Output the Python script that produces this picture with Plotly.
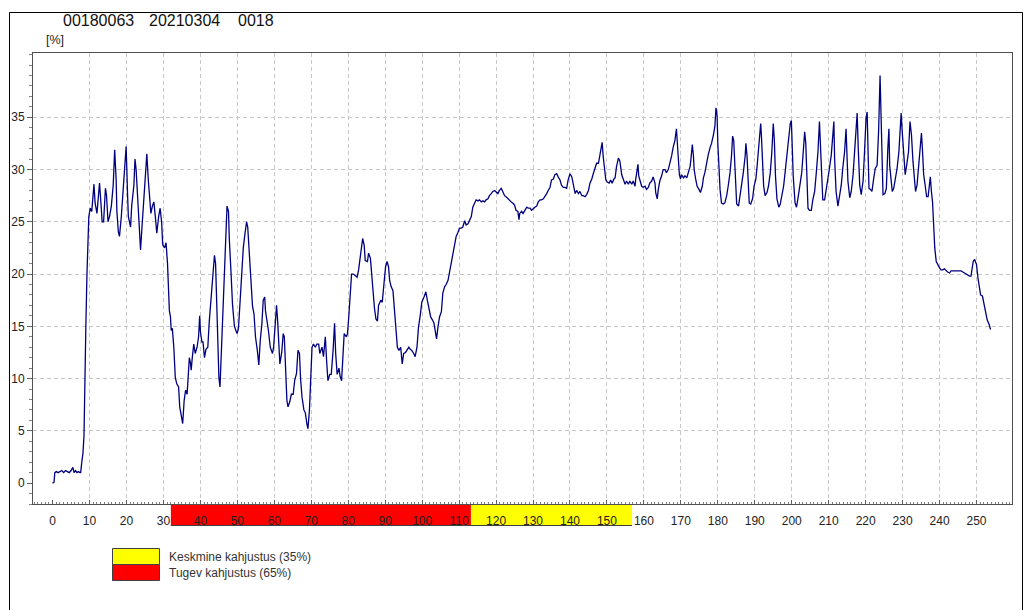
import plotly.graph_objects as go

# ---- measured profile, split by stretch (distance, reading %) ----
stretch_a = [
    (0, 0), (0.4, 0.1), (0.6, 1.0), (1.0, 1.1), (1.5, 1.0), (2.0, 1.1), (2.5, 1.2), (3.0, 1.0),
    (3.5, 1.2), (4.0, 1.1), (4.5, 1.0), (5.0, 1.2), (5.5, 1.5), (5.8, 1.0), (6.2, 1.2), (6.6, 1.0),
    (7.0, 1.1), (7.4, 1.0), (7.6, 1.0), (7.9, 2.0), (8.2, 2.8), (8.5, 4.5), (8.8, 9.0), (9.0, 15.0),
    (9.3, 20.0), (9.6, 23.5), (9.8, 25.5), (10.2, 26.3), (10.6, 26.0), (11.2, 28.6), (11.5, 26.8),
    (12.0, 25.8), (12.7, 28.7), (13.2, 26.2), (13.4, 25.0), (13.8, 25.0), (14.3, 28.2), (14.6, 27.5),
    (15.0, 25.0), (15.4, 25.5), (15.9, 26.5), (16.4, 28.5), (16.8, 31.9), (17.2, 29.0), (17.4, 26.0),
    (17.8, 24.0), (18.1, 23.6), (18.6, 25.5), (19.0, 27.5), (19.5, 29.5), (19.9, 32.2), (20.3, 27.5),
    (20.5, 25.5), (21.1, 24.5), (21.4, 26.5), (22.0, 28.5), (22.3, 31.0), (22.6, 30.0), (23.1, 27.0),
    (23.4, 25.5), (23.8, 22.3), (24.1, 24.0), (24.6, 26.5), (25.1, 29.5), (25.5, 31.5), (25.9, 29.0),
    (26.3, 27.0), (26.6, 25.8), (27.0, 26.5), (27.4, 26.9), (27.8, 25.5), (28.2, 23.9), (28.7, 25.5),
    (29.1, 26.3), (29.5, 25.0), (29.8, 22.8), (30.3, 22.5), (30.7, 23.0), (31.1, 21.0), (31.4, 17.8),
    (31.6, 16.5), (31.9, 15.9), (32.1, 14.6), (32.4, 14.8), (32.8, 13.0), (33.2, 10.1), (33.6, 9.5),
    (34.1, 9.2), (34.4, 7.3), (34.8, 6.5), (35.2, 5.7), (35.6, 7.9), (36.0, 8.9), (36.4, 8.5),
    (36.7, 10.0), (37.0, 12.0), (37.3, 11.5), (37.5, 10.8), (37.8, 12.0), (38.2, 13.3), (38.6, 12.4),
    (39.1, 13.0), (39.5, 14.0), (39.8, 16.0), (40.0, 14.5), (40.4, 13.5), (40.7, 13.5), (41.1, 12.0),
    (41.5, 12.8), (42.0, 13.0), (42.4, 15.5), (42.9, 18.1), (43.3, 20.0), (43.8, 21.8), (44.1, 21.0),
    (44.5, 16.5), (44.8, 13.0), (45.0, 10.1), (45.3, 9.2), (45.6, 12.0), (46.0, 17.0), (46.5, 20.0),
    (46.9, 24.0), (47.2, 26.5), (47.6, 26.0), (47.8, 23.5), (48.3, 20.0), (48.7, 17.0), (49.2, 15.0),
    (49.6, 14.5),
]

stretch_b = [
    (49.9, 14.3), (50.3, 14.8), (50.7, 17.0), (51.2, 20.0), (51.6, 22.5), (52.1, 24.0), (52.5, 25.0),
    (52.8, 24.5), (53.2, 22.3), (53.6, 20.0), (54.1, 16.9), (54.5, 16.2), (54.9, 14.0), (55.4, 12.7),
    (55.8, 11.3), (56.2, 13.7), (56.6, 15.1), (57.0, 17.5), (57.4, 17.8), (57.6, 16.5), (58.0, 15.7),
    (58.4, 14.6), (58.9, 13.0), (59.5, 12.4), (59.8, 13.0), (60.2, 15.3), (60.6, 17.0), (60.9, 15.5),
    (61.2, 13.0), (61.5, 11.4), (62.0, 12.5), (62.4, 14.3), (62.7, 14.0), (63.0, 11.5), (63.4, 7.9),
    (63.7, 7.3), (64.2, 7.8), (64.6, 8.5), (65.1, 8.5), (65.5, 9.8), (66.0, 10.5), (66.4, 12.7),
    (66.8, 12.4), (67.1, 10.0), (67.5, 8.2), (68.0, 7.0), (68.4, 6.7), (68.8, 5.7), (69.1, 5.2),
    (69.5, 7.0), (69.8, 10.1), (70.2, 13.0), (70.6, 13.3), (71.1, 13.0), (71.5, 13.3), (72.0, 13.3),
    (72.3, 12.4), (72.9, 13.0), (73.3, 12.1), (73.8, 14.0), (74.2, 11.4), (74.5, 9.8), (75.0, 10.4),
    (75.4, 10.4), (75.9, 12.7), (76.3, 15.3), (76.6, 12.4), (77.0, 10.4), (77.5, 11.0), (77.8, 10.2),
    (78.2, 9.8), (78.6, 12.4), (78.9, 14.3), (79.5, 14.0), (79.8, 14.3), (80.2, 16.2), (80.6, 18.5),
    (80.9, 20.0), (81.4, 20.0), (81.9, 19.8), (82.4, 19.7), (82.8, 20.4), (83.2, 21.6), (83.6, 22.3),
    (83.9, 23.4), (84.3, 22.8), (84.6, 21.3), (85.2, 21.2), (85.5, 22.0), (86.0, 21.5), (86.4, 19.7),
    (86.7, 18.4), (87.1, 16.7), (87.5, 15.7), (87.9, 15.5), (88.2, 17.0), (88.8, 17.5), (89.2, 17.3),
    (89.6, 19.2), (90.1, 20.7), (90.5, 21.2), (90.9, 20.7), (91.2, 19.4), (91.6, 18.8), (92.1, 18.4),
    (92.5, 16.5), (93.0, 14.9), (93.3, 13.0), (93.7, 12.7), (94.2, 13.0), (94.6, 11.4), (95.0, 12.4),
    (95.5, 12.5), (95.9, 12.7), (96.4, 13.0), (96.8, 12.8), (97.2, 12.7), (97.7, 12.4), (98.1, 12.1),
    (98.6, 13.0), (99.0, 14.9), (99.5, 16.1), (99.9, 17.3),
]

stretch_c = [
    (100.5, 17.8), (101.0, 18.3), (101.4, 17.5), (101.9, 16.4), (102.3, 15.9), (102.8, 15.6),
    (103.2, 15.3), (103.7, 14.2), (103.9, 13.8), (104.3, 15.0), (104.7, 15.9), (105.2, 16.4),
    (105.6, 18.2), (106.1, 18.8), (106.5, 19.0), (107.0, 19.4), (107.4, 20.2), (107.9, 21.0),
    (108.3, 22.0), (108.8, 22.8), (109.2, 23.6), (109.7, 24.0), (110.1, 24.4), (110.6, 24.4),
    (111.0, 24.5), (111.5, 25.1), (111.9, 24.7), (112.4, 24.8), (112.8, 25.1), (113.3, 25.5),
    (113.7, 26.4), (114.2, 26.9), (114.6, 27.1), (115.1, 27.0), (115.5, 27.1), (116.0, 26.9),
    (116.4, 27.0), (116.9, 26.9), (117.3, 27.1), (117.8, 27.2), (118.2, 27.5), (118.7, 27.7),
    (119.1, 27.9), (119.6, 28.0), (120.0, 27.9), (120.5, 27.7), (120.9, 28.0), (121.4, 28.2),
    (121.8, 27.9), (122.3, 27.5), (122.7, 27.4), (123.2, 27.2), (123.6, 27.1), (124.1, 26.9),
    (124.5, 26.8), (125.0, 26.6), (125.4, 26.1), (125.9, 26.0), (126.2, 25.2), (126.4, 25.8),
    (126.9, 26.0), (127.3, 25.8), (127.8, 26.1), (128.3, 26.4), (128.7, 26.3), (129.2, 26.3),
    (129.6, 26.1), (130.1, 26.3), (130.5, 26.4), (131.0, 26.5), (131.4, 26.9), (131.9, 27.1),
    (132.3, 27.1), (132.8, 27.2), (133.2, 27.4), (133.7, 27.7), (134.1, 28.0), (134.6, 28.3),
    (135.0, 29.0), (135.5, 29.1), (135.9, 29.5), (136.4, 29.6), (136.8, 29.3), (137.3, 29.0),
    (137.7, 28.5), (138.2, 28.3), (138.6, 28.3), (139.1, 28.2), (139.5, 29.0), (140.0, 29.6),
    (140.5, 29.3), (140.9, 28.7), (141.4, 27.7), (141.8, 28.0), (142.3, 27.7), (142.7, 27.9),
    (143.2, 27.5), (143.6, 27.5), (144.1, 27.4), (144.5, 27.6), (145.0, 28.0), (145.4, 28.7),
    (145.9, 29.1), (146.3, 29.6), (146.8, 30.1), (147.2, 30.6), (147.7, 30.6), (148.0, 31.2),
    (148.5, 31.8), (148.7, 32.6), (149.0, 31.2), (149.4, 29.8), (149.7, 29.0), (150.1, 28.8),
    (150.6, 28.7), (151.0, 29.0), (151.4, 28.7),
]

stretch_d = [
    (151.9, 29.1), (152.2, 29.2), (152.6, 30.3), (153.1, 31.1), (153.5, 30.8), (154.0, 29.5),
    (154.4, 29.1), (154.9, 28.6), (155.3, 28.9), (155.8, 28.6), (156.2, 28.9), (156.7, 28.6),
    (157.1, 28.9), (157.6, 28.4), (157.8, 29.1), (158.1, 30.0), (158.4, 30.5), (158.6, 29.4),
    (158.9, 28.9), (159.4, 28.4), (159.8, 28.3), (160.3, 28.4), (160.7, 28.1), (161.2, 28.3),
    (161.6, 28.7), (162.1, 28.9), (162.5, 29.3), (163.0, 28.7), (163.2, 27.8), (163.6, 27.2),
    (163.9, 28.1), (164.3, 28.9), (164.8, 29.4), (165.2, 30.0), (165.7, 30.0), (166.1, 29.7),
    (166.6, 30.0), (167.0, 30.5), (167.5, 31.3), (167.9, 32.1), (168.4, 32.8), (168.8, 33.9),
    (169.0, 32.8), (169.3, 31.3), (169.6, 29.5), (169.9, 29.1), (170.2, 29.5), (170.7, 29.2),
    (171.1, 29.4), (171.6, 29.2), (172.0, 29.7), (172.5, 30.3), (172.7, 30.9), (173.1, 32.4),
    (173.4, 31.3), (173.6, 30.0), (174.0, 29.1), (174.4, 28.4), (174.9, 28.1), (175.3, 27.8),
    (175.8, 28.4), (176.1, 29.2), (176.5, 29.7), (177.0, 30.8), (177.4, 31.4), (177.9, 32.1),
    (178.3, 32.5), (178.8, 33.3), (179.2, 34.1), (179.5, 35.9), (179.8, 35.2), (180.0, 32.5),
    (180.3, 29.7), (180.6, 28.1), (181.0, 26.8), (181.5, 26.7), (181.9, 26.8), (182.4, 27.5),
    (182.8, 28.4), (183.3, 29.7), (183.7, 31.3), (184.0, 33.2), (184.3, 32.8), (184.6, 30.3),
    (184.8, 28.1), (185.1, 26.7), (185.6, 26.5), (186.0, 27.5), (186.5, 28.4), (186.9, 29.7),
    (187.4, 31.3), (187.6, 32.5), (187.9, 31.3), (188.2, 28.4), (188.5, 26.8), (188.9, 26.7),
    (189.4, 27.2), (189.8, 28.4), (190.3, 29.1), (190.7, 30.6), (191.2, 32.8), (191.6, 34.4),
    (191.8, 33.2), (192.1, 30.6), (192.4, 28.4), (192.8, 27.5), (193.3, 27.8), (193.7, 28.4),
    (194.2, 29.7), (194.6, 31.6), (195.0, 34.4), (195.3, 32.8), (195.6, 29.4), (196.0, 27.2),
    (196.5, 26.4), (196.9, 26.7), (197.3, 27.5), (197.8, 28.4), (198.2, 29.7), (198.7, 31.3),
    (199.1, 33.2), (199.6, 34.4), (199.9, 34.7), (200.2, 31.9), (200.4, 29.4), (200.9, 26.8),
    (201.3, 26.4), (201.8, 27.5), (202.2, 28.4), (202.7, 29.7), (203.1, 31.6), (203.5, 33.6),
    (203.8, 32.5), (204.0, 29.4), (204.4, 26.3),
]

stretch_e = [
    (204.8, 26.1), (205.3, 26.1), (205.7, 27.1), (206.2, 27.9), (206.6, 29.5), (207.1, 31.7),
    (207.5, 34.6), (207.8, 32.0), (208.0, 28.9), (208.4, 27.1), (208.9, 27.1), (209.3, 27.9),
    (209.8, 28.9), (210.2, 30.1), (210.7, 31.4), (211.1, 33.6), (211.4, 34.6), (211.6, 31.1),
    (212.0, 27.9), (212.5, 26.5), (212.9, 27.3), (213.4, 28.5), (213.8, 30.1), (214.3, 31.7),
    (214.7, 33.9), (214.9, 31.7), (215.2, 28.9), (215.7, 27.3), (216.1, 27.9), (216.6, 29.5),
    (217.0, 31.4), (217.5, 33.6), (217.7, 35.4), (218.0, 32.0), (218.4, 28.5), (218.8, 27.6),
    (219.3, 28.9), (219.7, 31.7), (220.1, 34.9), (220.4, 35.5), (220.6, 31.7), (220.9, 28.2),
    (221.3, 28.1), (221.7, 27.9), (222.2, 29.2), (222.6, 30.1), (223.1, 30.4), (223.5, 33.6),
    (223.9, 39.0), (224.2, 35.2), (224.4, 30.4), (224.7, 27.6), (225.2, 27.7), (225.6, 28.2),
    (226.0, 32.0), (226.3, 33.9), (226.5, 30.4), (226.8, 28.9), (227.2, 27.9), (227.6, 28.2),
    (228.1, 29.2), (228.5, 30.1), (229.0, 31.7), (229.3, 33.9), (229.6, 35.4), (229.9, 33.6),
    (230.2, 31.7), (230.5, 30.4), (230.7, 29.5), (231.1, 30.4), (231.6, 31.7), (232.0, 34.6),
    (232.4, 33.3), (232.8, 30.8), (233.2, 29.5), (233.5, 27.9), (233.9, 28.5), (234.4, 30.8),
    (234.8, 32.4), (235.1, 33.5), (235.4, 31.7), (235.7, 29.5), (236.1, 28.5), (236.5, 27.4),
    (236.9, 27.4), (237.3, 28.4), (237.5, 29.3), (237.8, 27.9), (238.1, 26.9), (238.4, 24.7),
    (238.7, 22.5), (239.1, 21.2), (239.5, 20.9), (240.0, 20.6), (240.4, 20.4), (240.9, 20.4),
    (241.3, 20.5), (241.8, 20.3), (242.2, 20.2), (242.7, 20.1), (243.1, 20.3), (243.6, 20.3),
    (244.0, 20.3), (244.5, 20.3), (244.9, 20.3), (245.4, 20.3), (245.8, 20.3), (246.3, 20.2),
    (246.7, 20.1), (247.2, 20.0), (247.6, 19.9), (248.1, 19.8), (248.5, 19.8), (248.8, 20.6),
    (249.1, 21.2), (249.5, 21.4), (250.0, 20.9), (250.4, 19.6), (250.7, 19.0), (251.1, 18.0),
    (251.6, 17.9), (252.0, 17.1), (252.5, 16.4), (252.9, 15.6), (253.4, 15.2), (253.8, 14.7),
]

# damage zones along the distance axis
zone_start = [32.0, 113.2]
zone_end = [113.2, 156.8]
zone_fill = ["#ff0000", "#ffff00"]

legend_labels = ["Keskmine kahjustus (35%)", "Tugev kahjustus (65%)"]
legend_fills = ["#ffff00", "#ff0000"]

header_parts = ["00180063", "20210304", "0018"]
x_ticks = list(range(0, 251, 10))
y_ticks = list(range(0, 36, 5))

# ---- page geometry (pixels) ----
W, H = 1029, 610
PL, PR, PT, PB = 33, 1012, 53, 504     # plot area edges
X_RANGE = [-5.3, 259.6]
Y_RANGE = [-2.0, 41.15]


def px(xp):
    return (xp - PL) / (PR - PL)


def py(yp):
    return (PB - yp) / (PB - PT)


profile = stretch_a + stretch_b + stretch_c + stretch_d + stretch_e
dist = [p[0] for p in profile]
val = [p[1] for p in profile]

fig = go.Figure()
fig.add_trace(go.Scatter(
    x=dist, y=val, mode="lines",
    line=dict(color="#00007f", width=1.3),
    hoverinfo="skip", showlegend=False,
))

font_main = "Liberation Sans, Arial, sans-serif"
grid_dash = "4px,3px"

shapes = []
# coloured damage bands under the x axis
for x0, x1, c in zip(zone_start, zone_end, zone_fill):
    shapes.append(dict(type="rect", xref="x", yref="paper", x0=x0, x1=x1,
                       y0=py(526), y1=py(505), fillcolor=c,
                       line=dict(width=0), layer="below"))
# dark lower edge of the band strip
shapes.append(dict(type="line", xref="x", yref="paper", x0=zone_start[0], x1=zone_end[-1],
                   y0=py(525.5), y1=py(525.5), line=dict(color="#404040", width=1),
                   layer="below"))

# legend swatches
for i, c in enumerate(legend_fills):
    top = 548.5 + 16 * i
    shapes.append(dict(type="rect", xref="paper", yref="paper",
                       x0=px(112.5), x1=px(159.5), y0=py(top + 16), y1=py(top),
                       fillcolor=c, line=dict(color="#404040", width=1)))

# outer frame
shapes.append(dict(type="rect", xref="paper", yref="paper",
                   x0=px(9.5), x1=px(1022.5), y0=py(640), y1=py(12.5),
                   fillcolor="rgba(0,0,0,0)", line=dict(color="#000000", width=1)))

annotations = []
for txt, xp in zip(header_parts, [61, 147, 236]):
    annotations.append(dict(text=txt, xref="paper", yref="paper", x=px(xp), y=py(21),
                            xanchor="left", yanchor="middle", showarrow=False,
                            font=dict(family=font_main, size=16, color="#111111")))
annotations.append(dict(text="[%]", xref="paper", yref="paper", x=px(44), y=py(40),
                        xanchor="left", yanchor="middle", showarrow=False,
                        font=dict(family=font_main, size=12.5, color="#222222")))
for i, lab in enumerate(legend_labels):
    annotations.append(dict(text=lab, xref="paper", yref="paper", x=px(167), y=py(556.5 + 16 * i),
                            xanchor="left", yanchor="middle", showarrow=False,
                            font=dict(family=font_main, size=12, color="#333333")))

fig.update_layout(
    width=W, height=H,
    margin=dict(l=PL, r=W - PR, t=PT, b=H - PB, pad=0),
    paper_bgcolor="#ffffff", plot_bgcolor="#ffffff",
    shapes=shapes, annotations=annotations,
    showlegend=False,
)

fig.update_xaxes(
    range=X_RANGE, tickmode="array", tickvals=x_ticks, ticktext=[str(t) for t in x_ticks],
    ticks="inside", ticklen=4, tickcolor="#606060", tickwidth=1,
    showgrid=True, gridcolor="#c8c8c8", gridwidth=1, griddash=grid_dash,
    minor=dict(tickmode="linear", tick0=0, dtick=1, ticks="inside", ticklen=2,
               tickcolor="#808080", showgrid=False),
    showline=True, linecolor="#505050", linewidth=1, mirror=True,
    zeroline=True, zerolinecolor="rgba(0,0,0,0)",
    tickfont=dict(family=font_main, size=12, color="#222222"),
    ticklabelstandoff=6,
)
fig.update_yaxes(
    range=Y_RANGE, tickmode="array", tickvals=y_ticks, ticktext=[str(t) for t in y_ticks],
    ticks="outside", ticklen=5, tickcolor="#606060", tickwidth=1,
    showgrid=True, gridcolor="#c8c8c8", gridwidth=1, griddash=grid_dash,
    minor=dict(tickmode="linear", tick0=0, dtick=1, ticks="outside", ticklen=3,
               tickcolor="#808080", showgrid=False),
    showline=True, linecolor="#505050", linewidth=1, mirror=True,
    zeroline=True, zerolinecolor="rgba(0,0,0,0)",
    tickfont=dict(family=font_main, size=12, color="#222222"),
)

fig.write_html("out.html")
